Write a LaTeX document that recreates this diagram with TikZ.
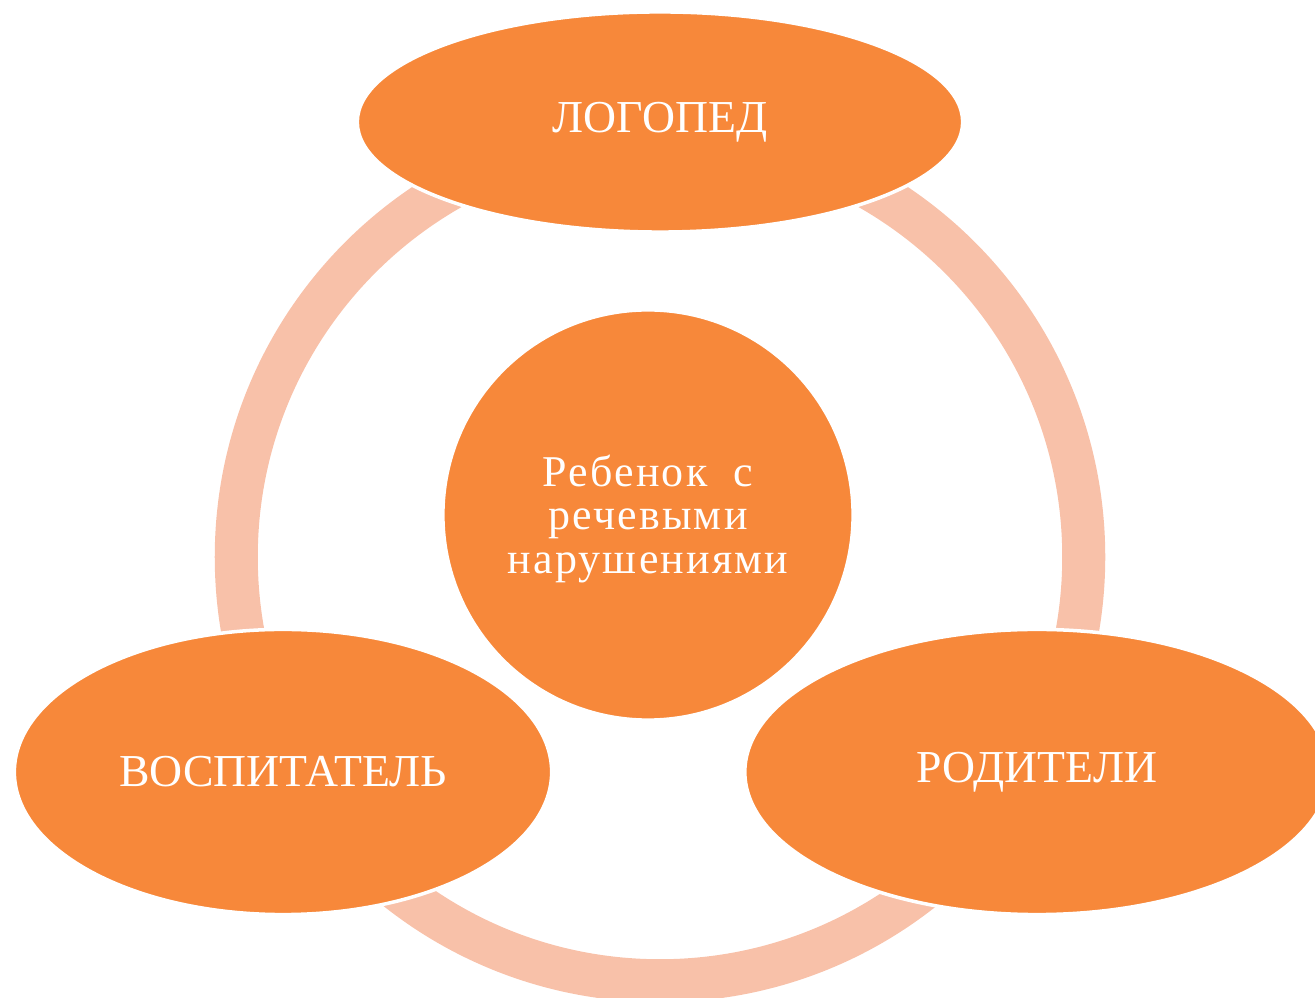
\documentclass[tikz,border=0pt]{standalone}
\usepackage{fontspec}
\setmainfont{Liberation Serif}
\usepackage{tikz}
\usetikzlibrary{shapes.geometric}
\definecolor{orangefill}{HTML}{F7883A}
\definecolor{ringpink}{HTML}{F8C1A9}
\tikzset{
  role/.style={ellipse, fill=orangefill, draw=white, line width=1pt,
    text=white, font=\fontsize{13}{15}\selectfont, inner sep=0pt},
  child/.style={circle, fill=orangefill, draw=white, line width=1pt,
    text=white, align=center, font=\fontsize{12.5}{12.4}\selectfont\addfontfeatures{LetterSpace=5}, inner sep=0pt}
}
\begin{document}
\begin{tikzpicture}[x=0.01cm, y=-0.01cm]
\useasboundingbox (0,0) rectangle (1315,998);
\clip (0,0) rectangle (1315,998);
% ring behind
\draw[ringpink, line width=0.43cm] (660,557) circle [radius=4.235cm];

\node[child, minimum size=4.1cm] (kid) at (648,515) {};
\node[text=white, align=center, font=\fontsize{12.5}{12.4}\selectfont\addfontfeatures{LetterSpace=5}] (kidtext) at (648,519) {Ребенок\ \ с\\речевыми\\нарушениями};
\node[role, minimum width=6.05cm, minimum height=2.2cm] (logo) at (660,122) {ЛОГОПЕД};
\node[role, minimum width=5.37cm, minimum height=2.85cm] (vosp) at (283,772) {ВОСПИТАТЕЛЬ};
\node[role, minimum width=5.84cm, minimum height=2.85cm] (rod) at (1037,772) {РОДИТЕЛИ};
\end{tikzpicture}
\end{document}
